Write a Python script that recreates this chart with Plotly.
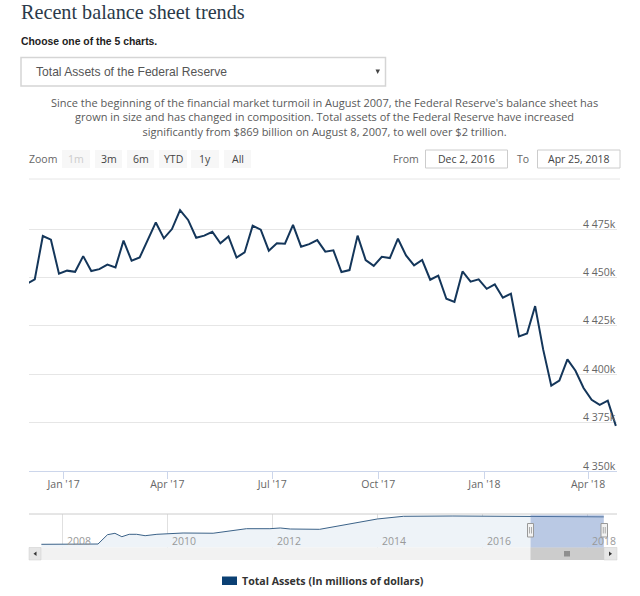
import plotly.graph_objects as go
import pandas as pd

# ---------- data ----------
WEEK_START = "2016-11-30"
total_assets = [
    4446.7, 4449.0, 4471.4, 4469.5, 4451.9, 4453.5, 4452.9, 4461.0, 4453.3, 4454.3,
    4456.6, 4455.2, 4469.0, 4458.6, 4460.3, 4469.7, 4478.4, 4470.2, 4475.0, 4484.8,
    4479.7, 4470.5, 4471.6, 4473.6, 4467.6, 4471.2, 4460.3, 4462.9, 4476.7, 4474.7,
    4463.8, 4467.6, 4467.4, 4477.2, 4465.9, 4467.2, 4469.3, 4463.3, 4464.0, 4452.8,
    4453.8, 4471.6, 4459.0, 4456.0, 4460.7, 4460.0, 4470.0, 4461.4, 4456.2, 4459.0,
    4448.8, 4450.9, 4439.0, 4437.4, 4453.1, 4447.8, 4449.0, 4444.1, 4446.4, 4439.5,
    4441.6, 4419.5, 4421.0, 4435.2, 4412.7, 4394.1, 4396.7, 4407.7, 4401.8, 4392.9,
    4386.8, 4384.2, 4386.3, 4373.3,
]
week_dates = pd.date_range(WEEK_START, periods=len(total_assets), freq="7D")

nav_dates = ["2007-08-08", "2008-09-05", "2008-11-10", "2009-01-01", "2009-02-18", "2009-04-10",
             "2009-06-01", "2009-07-30", "2009-10-20", "2010-04-20", "2010-11-15", "2011-07-05",
             "2011-12-15", "2012-02-25", "2012-05-05", "2012-11-25", "2014-01-01", "2014-07-01",
             "2015-06-10", "2016-12-01", "2018-04-25"]
nav_values = [869, 905, 2093, 2272, 1838, 2144, 2144, 1966, 2144, 2310, 2280, 2860,
              2860, 2950, 2820, 2780, 4100, 4440, 4480, 4450, 4370]

y_ticks = [4350, 4375, 4400, 4425, 4450, 4475]
y_labels = ["4 350k", "4 375k", "4 400k", "4 425k", "4 450k", "4 475k"]
x_ticks = ["2017-01-01", "2017-04-01", "2017-07-01", "2017-10-01", "2018-01-01", "2018-04-01"]
x_labels = ["Jan '17", "Apr '17", "Jul '17", "Oct '17", "Jan '18", "Apr '18"]
nav_years = ["2008", "2010", "2012", "2014", "2016", "2018"]
zoom_buttons = ["1m", "3m", "6m", "YTD", "1y", "All"]
date_from = "Dec 2, 2016"
date_to = "Apr 25, 2018"
paragraph = [
    "Since the beginning of the financial market turmoil in August 2007, the Federal Reserve's balance sheet has",
    "grown in size and has changed in composition. Total assets of the Federal Reserve have increased",
    "significantly from $869 billion on August 8, 2007, to well over $2 trillion.",
]

# ---------- geometry helpers ----------
W, H = 640, 596
px = lambda v: v / W
py = lambda v: 1 - v / H
UI = "Open Sans"

shapes, annos = [], []

def rect(x0, y0, x1, y1, fill="rgba(0,0,0,0)", line=None, lw=1):
    shapes.append(dict(type="rect", xref="paper", yref="paper", x0=px(x0), x1=px(x1), y0=py(y1), y1=py(y0),
                       fillcolor=fill, line=dict(color=line or "rgba(0,0,0,0)", width=lw if line else 0)))

def seg(x0, y0, x1, y1, color, lw=1):
    shapes.append(dict(type="line", xref="paper", yref="paper", x0=px(x0), x1=px(x1), y0=py(y0), y1=py(y1),
                       line=dict(color=color, width=lw)))

def tri(pts, color):
    d = "M " + " L ".join(f"{px(a):.5f},{py(b):.5f}" for a, b in pts) + " Z"
    shapes.append(dict(type="path", xref="paper", yref="paper", path=d, fillcolor=color, line=dict(width=0)))

def text(x, y, s, size=11, color="#666666", anchor="left", family=UI, bold=False):
    if anchor == "left":
        x -= 2
    annos.append(dict(xref="paper", yref="paper", x=px(x), y=py(y), text=f"<b>{s}</b>" if bold else s,
                      showarrow=False, xanchor=anchor, yanchor="middle",
                      font=dict(size=size, color=color, family=family)))

# ---------- page furniture ----------
text(21, 12, "Recent balance sheet trends", 20.2, "#2b3a4a", family="Liberation Serif")
text(21, 41, "Choose one of the 5 charts.", 10.4, "#222222", family="Liberation Sans", bold=True)
rect(21, 57.5, 385.5, 86, "#ffffff", "#d5d5d5", 1.5)
text(36, 72, "Total Assets of the Federal Reserve", 12.1, "#555555", family="Liberation Sans")
tri([(375.5, 69.5), (380, 69.5), (377.7, 74)], "#444444")
text(324, 116.7, "<br>".join(paragraph), 11, "#5a5a5a", "center")

text(29, 158.5, "Zoom", 10.5, "#666666")
btn_x = [(62, 90), (95, 122), (127, 154), (159, 187), (191, 219), (224, 251)]
for (a, b), s in zip(btn_x, zoom_buttons):
    rect(a, 150, b, 168, "#f7f7f7")
    text((a + b) / 2, 158.5, s, 10.5, "#cccccc" if s == "1m" else "#444444", "center")
text(393, 158.5, "From", 10.5, "#666666")
rect(425.5, 150, 507.5, 168, "#ffffff", "#cccccc")
text(466.5, 158.5, date_from, 10.5, "#444444", "center")
text(517, 158.5, "To", 10.5, "#666666")
rect(537.5, 150, 620, 168, "#ffffff", "#cccccc")
text(579, 158.5, date_to, 10.5, "#444444", "center")
seg(29, 179, 620, 179, "#e6e6e6")

# ---------- navigator chrome ----------
rect(29, 547.5, 617, 560, "#f2f2f2")
rect(29, 547.5, 41, 560, "#e6e6e6", "#cccccc", 0.5)
tri([(36.5, 551.5), (36.5, 556), (33.5, 553.7)], "#333333")
rect(530.5, 547.5, 604, 560, "#cccccc")
rect(604, 547.5, 617, 560, "#e6e6e6", "#cccccc", 0.5)
tri([(609, 551.5), (609, 556), (612, 553.7)], "#333333")
for gx in (565, 567, 569):
    seg(gx, 551, gx, 556.5, "#333333", 0.8)

shapes.append(dict(type="rect", xref="x2", yref="paper", x0="2016-12-02",
                   x1="2018-04-25", y0=py(547.5), y1=py(514.5),
                   fillcolor="rgba(102,133,194,0.38)", line=dict(width=0)))
seg(29, 514, 617, 514, "#cccccc")
for hx0, hx1 in ((527.5, 533.5), (601, 607.5)):
    rect(hx0, 523.5, hx1, 537, "#f2f2f2", "#999999", 1)
    seg((hx0 + hx1) / 2 - 1, 527, (hx0 + hx1) / 2 - 1, 533.5, "#999999", 0.8)
    seg((hx0 + hx1) / 2 + 1, 527, (hx0 + hx1) / 2 + 1, 533.5, "#999999", 0.8)

for yr in nav_years:
    annos.append(dict(xref="x2", yref="paper", x=f"{yr}-01-01", y=py(540.8), text=yr, showarrow=False,
                      xanchor="left", yanchor="middle", xshift=3,
                      font=dict(size=10.5, color="#999999", family=UI)))

# value-axis labels sit inside the plot, just above their gridlines
for v, s in zip(y_ticks, y_labels):
    annos.append(dict(xref="paper", yref="y", x=px(618), y=v, text=s, showarrow=False,
                      xanchor="right", yanchor="middle", yshift=5.5,
                      font=dict(size=10.5, color="#666666", family=UI)))

# ---------- legend ----------
rect(222, 576.5, 237, 585, "#0b4073")
text(241.5, 580.5, "Total Assets (In millions of dollars)", 10.6, "#333333", bold=True)

# ---------- figure ----------
fig = go.Figure()
fig.add_trace(go.Scatter(x=week_dates, y=total_assets, mode="lines", xaxis="x", yaxis="y",
                         line=dict(color="#14365a", width=2), showlegend=False))
fig.add_trace(go.Scatter(x=nav_dates, y=nav_values, mode="lines", xaxis="x2", yaxis="y2",
                         fill="tozeroy", fillcolor="#eef3f8",
                         line=dict(color="#3b6288", width=1), showlegend=False))

fig.update_layout(
    width=W, height=H, autosize=False,
    margin=dict(l=0, r=0, t=0, b=0),
    paper_bgcolor="#ffffff", plot_bgcolor="rgba(0,0,0,0)",
    showlegend=False,
    shapes=shapes, annotations=annos,
    xaxis=dict(domain=[px(29), px(617)], range=["2016-12-02", "2018-04-26"], type="date",
               tickvals=x_ticks, ticktext=x_labels, ticks="outside", ticklen=7, tickcolor="#ccd6eb",
               ticklabelstandoff=-4,
               tickfont=dict(size=10.5, color="#666666", family=UI), showgrid=False,
               showline=True, linecolor="#ccd6eb", anchor="y", zeroline=False),
    yaxis=dict(domain=[py(471), py(200)], range=[4350, 4490], side="right",
               tickvals=y_ticks, showticklabels=False, ticks="",
               gridcolor="#e6e6e6", gridwidth=1, zeroline=False, anchor="x"),
    xaxis2=dict(domain=[px(29), px(617)], range=["2007-05-14", "2018-07-26"], type="date",
                tickvals=[f"{y}-01-01" for y in nav_years], showticklabels=False, ticks="",
                showgrid=True, gridcolor="#e0e0e0", gridwidth=1, zeroline=False, anchor="y2"),
    yaxis2=dict(domain=[py(547.5), py(514)], range=[461, 4735], showticklabels=False, ticks="",
                showgrid=False, zeroline=False, anchor="x2"),
)

fig.write_html("out.html", config=dict(displayModeBar=False),
               post_script="document.body.style.margin='0';document.body.style.overflow='hidden';")
